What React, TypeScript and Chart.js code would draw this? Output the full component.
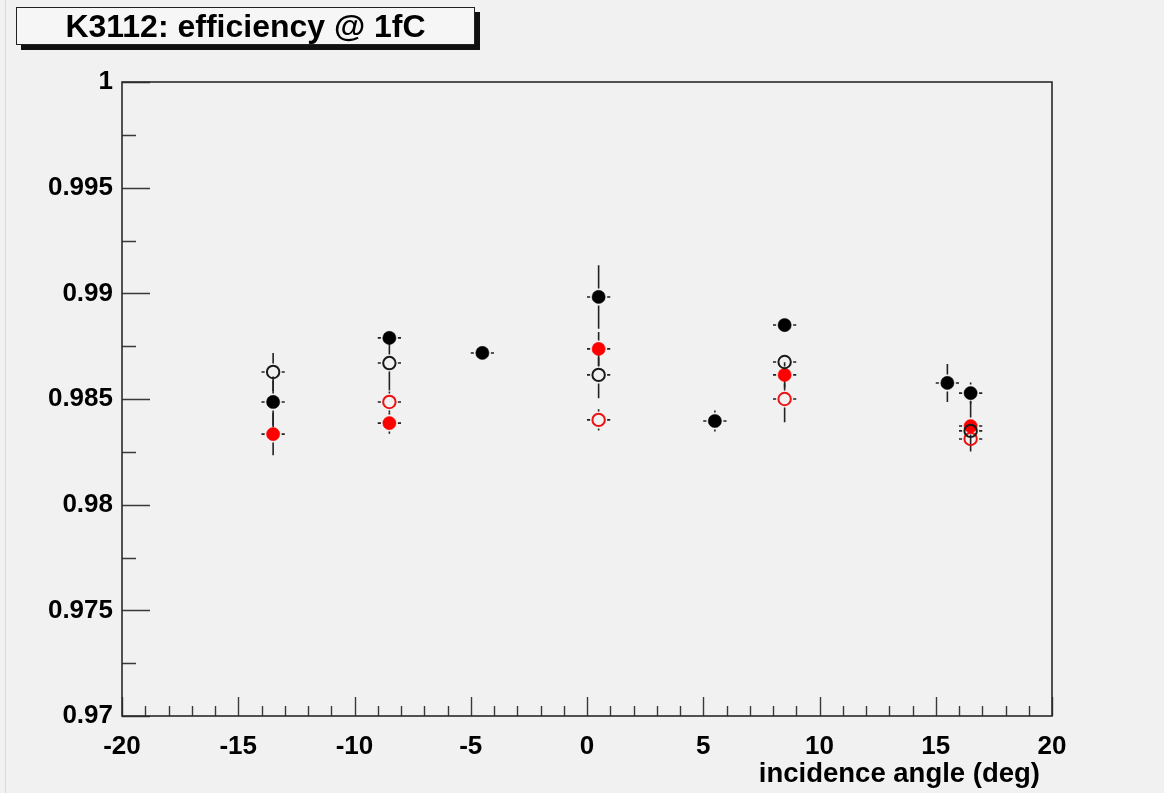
import React, { useEffect, useRef } from "react";
import { Chart, registerables } from "chart.js";

Chart.register(...registerables);

// Axis ranges and labelled ticks
const xMin = -20;
const xMax = 20;
const xStep = 5;
const yMin = 0.97;
const yMax = 1;
const yStep = 0.005;

// Half-width of each angle bin (horizontal error)
const angleHalfWidth = 0.5;

// Black filled markers
const blackFilledX = [-13.5, -8.5, -4.5, 0.5, 5.5, 8.5, 15.5, 16.5];
const blackFilledY = [0.98486, 0.98789, 0.98718, 0.98983, 0.98396, 0.9885, 0.98576, 0.98528];
const blackFilledErr = [0.0012, 0.0003, 0.0002, 0.0015, 0.0005, 0.0003, 0.0009, 0.0005];

// Black open markers
const blackOpenX = [-13.5, -8.5, 0.5, 8.5, 16.5];
const blackOpenY = [0.98628, 0.9867, 0.98614, 0.98675, 0.98349];
const blackOpenErr = [0.0009, 0.0013, 0.0011, 0.0003, 0.0003];

// Red filled markers
const redFilledX = [-13.5, -8.5, 0.5, 8.5, 16.5];
const redFilledY = [0.98334, 0.98386, 0.98737, 0.98614, 0.98372];
const redFilledErr = [0.001, 0.0005, 0.0008, 0.0006, 0.0012];

// Red open markers
const redOpenX = [-8.5, 0.5, 8.5, 16.5];
const redOpenY = [0.98486, 0.98401, 0.985, 0.98311];
const redOpenErr = [0.0005, 0.0005, 0.0011, 0.0004];

const FONT = "'Liberation Sans', Arial, Helvetica, sans-serif";

function points(xs: number[], ys: number[], errs: number[]) {
  return xs.map((x, i) => ({ x, y: ys[i], xErr: angleHalfWidth, yErr: errs[i] }));
}

// Draws the frame, inward ticks and error bars beneath the markers
const rootFramePlugin = {
  id: "rootFrame",
  beforeDatasetsDraw(chart: any) {
    const { ctx, chartArea: a, scales } = chart;
    const xs = scales.x;
    const ys = scales.y;
    ctx.save();

    // ticks
    ctx.strokeStyle = "#3a3a3a";
    ctx.lineWidth = 1.4;
    ctx.beginPath();
    for (let v = xMin; v <= xMax; v++) {
      const px = Math.round(xs.getPixelForValue(v)) + 0.5;
      const len = v % 5 === 0 ? 19 : 10;
      ctx.moveTo(px, a.bottom);
      ctx.lineTo(px, a.bottom - len);
    }
    const nMinor = Math.round((yMax - yMin) / (yStep / 2));
    for (let k = 0; k <= nMinor; k++) {
      const py = Math.round(ys.getPixelForValue(yMin + (k * yStep) / 2)) + 0.5;
      const len = k % 2 === 0 ? 28 : 14;
      ctx.moveTo(a.left, py);
      ctx.lineTo(a.left + len, py);
    }
    ctx.stroke();

    // frame
    ctx.strokeStyle = "#2a2a2a";
    ctx.lineWidth = 1.6;
    ctx.strokeRect(a.left, a.top, a.right - a.left, a.bottom - a.top);

    // error bars
    ctx.strokeStyle = "#222";
    ctx.lineWidth = 1.6;
    const gap = 8.5;
    chart.data.datasets.forEach((ds: any, di: number) => {
      const meta = chart.getDatasetMeta(di);
      meta.data.forEach((el: any, i: number) => {
        const d = ds.data[i];
        const cx = el.x;
        const cy = el.y;
        const dx = Math.abs(xs.getPixelForValue(d.x + d.xErr) - cx);
        const dy = Math.abs(ys.getPixelForValue(d.y + d.yErr) - cy);
        ctx.beginPath();
        if (dx > gap) {
          ctx.moveTo(cx - gap, cy);
          ctx.lineTo(cx - dx, cy);
          ctx.moveTo(cx + gap, cy);
          ctx.lineTo(cx + dx, cy);
        }
        if (dy > gap) {
          ctx.moveTo(cx, cy - gap);
          ctx.lineTo(cx, cy - dy);
          ctx.moveTo(cx, cy + gap);
          ctx.lineTo(cx, cy + dy);
        }
        ctx.stroke();
      });
    });
    ctx.restore();
  },
};

function filled(label: string, color: string, data: any[]) {
  return {
    label,
    data,
    showLine: false,
    pointStyle: "circle",
    pointRadius: 6.6,
    pointBackgroundColor: color,
    pointBorderColor: color,
    pointBorderWidth: 0.5,
  };
}

function hollow(label: string, color: string, data: any[]) {
  return {
    label,
    data,
    showLine: false,
    pointStyle: "circle",
    pointRadius: 6.2,
    pointBackgroundColor: "rgba(0,0,0,0)",
    pointBorderColor: color,
    pointBorderWidth: 2,
  };
}

export default function App() {
  const canvasRef = useRef<HTMLCanvasElement | null>(null);

  useEffect(() => {
    document.body.style.margin = "0";
    document.body.style.background = "#f1f1f1";
    const canvas = canvasRef.current;
    if (!canvas) return;
    const chart = new Chart(canvas, {
      type: "scatter",
      data: {
        datasets: [
          filled("black filled", "#000000", points(blackFilledX, blackFilledY, blackFilledErr)),
          hollow("black open", "#1a1a1a", points(blackOpenX, blackOpenY, blackOpenErr)),
          filled("red filled", "#ff0000", points(redFilledX, redFilledY, redFilledErr)),
          hollow("red open", "#ee1111", points(redOpenX, redOpenY, redOpenErr)),
        ],
      } as any,
      options: {
        animation: false,
        responsive: false,
        devicePixelRatio: 1,
        layout: { padding: { left: 0, top: 82, right: 112, bottom: 0 } },
        plugins: { legend: { display: false }, tooltip: { enabled: false } },
        scales: {
          x: {
            type: "linear",
            min: xMin,
            max: xMax,
            afterFit: (scale: any) => {
              scale.height = 77;
            },
            grid: { display: false, drawTicks: false },
            border: { display: false },
            ticks: {
              stepSize: xStep,
              padding: 15,
              color: "#000",
              font: { family: FONT, size: 26, weight: "bold" },
              callback: (v: any) => String(Math.round(Number(v))),
            },
          },
          y: {
            type: "linear",
            min: yMin,
            max: yMax,
            afterFit: (scale: any) => {
              scale.width = 122;
            },
            grid: { display: false, drawTicks: false },
            border: { display: false },
            ticks: {
              stepSize: yStep,
              padding: 9,
              color: "#000",
              font: { family: FONT, size: 26, weight: "bold" },
              callback: (v: any) => String(parseFloat(Number(v).toFixed(4))),
            },
          },
        },
      } as any,
      plugins: [rootFramePlugin],
    });
    return () => chart.destroy();
  }, []);

  return (
    <div
      style={{
        position: "relative",
        width: 1164,
        height: 793,
        background: "#f1f1f1",
        overflow: "hidden",
        fontFamily: FONT,
      }}
    >
      <canvas ref={canvasRef} width={1164} height={793} style={{ position: "absolute", left: 0, top: 0 }} />
      <div style={{ position: "absolute", left: 5, top: 0, width: 1, height: 793, background: "#d9d9d9" }} />
      <div
        style={{
          position: "absolute",
          left: 16,
          top: 7,
          width: 459,
          height: 38,
          boxSizing: "border-box",
          border: "1.5px solid #222",
          background: "#f6f6f6",
          boxShadow: "5px 5px 0 #111",
          textAlign: "center",
          lineHeight: "36px",
          fontSize: 32,
          fontWeight: "bold",
          color: "#000",
          whiteSpace: "nowrap",
        }}
      >
        K3112: efficiency @ 1fC
      </div>
      <div
        style={{
          position: "absolute",
          right: 124,
          top: 758,
          lineHeight: "30px",
          fontSize: 27.5,
          fontWeight: "bold",
          color: "#000",
          whiteSpace: "nowrap",
        }}
      >
        incidence angle (deg)
      </div>
    </div>
  );
}
